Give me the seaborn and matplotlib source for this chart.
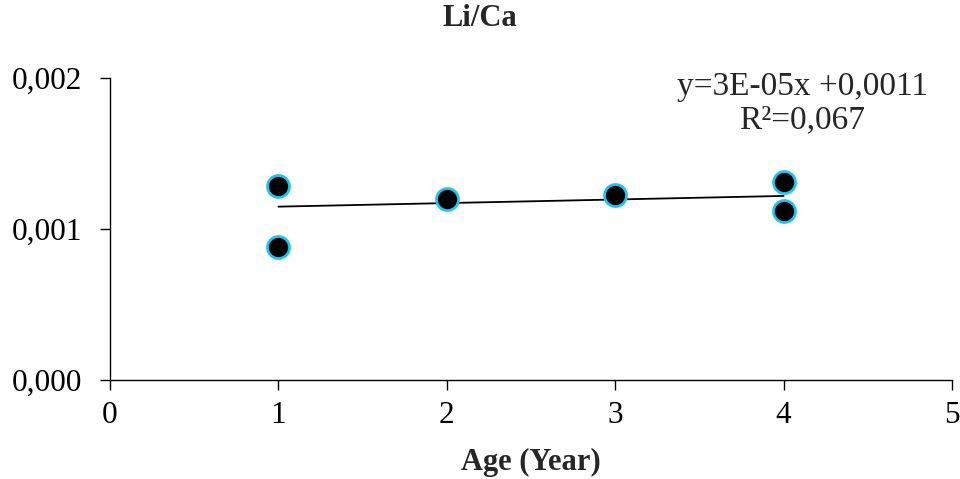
import matplotlib
matplotlib.use("Agg")
import matplotlib.pyplot as plt
import seaborn as sns
import pandas as pd
from matplotlib.ticker import FuncFormatter

# values
age = [1, 1, 2, 3, 4, 4]
li_ca = [0.001285, 0.000883, 0.001197, 0.001225, 0.001311, 0.001121]
trend_x = [1, 4]
trend_y = [0.001148, 0.001219]
equation = "y=3E-05x +0,0011\nR²=0,067"
x_ticks = [0, 1, 2, 3, 4, 5]
y_ticks = [0.000, 0.001, 0.002]

df = pd.DataFrame({"Age": age, "LiCa": li_ca})
trend = pd.DataFrame({"Age": trend_x, "LiCa": trend_y})

sns.set_style("ticks")
plt.rcParams["font.family"] = ["Liberation Serif", "DejaVu Serif"]

fig = plt.figure(figsize=(9.6, 4.79), dpi=100)
ax = fig.add_axes([110 / 960, 1 - 380 / 479, 842 / 960, 302 / 479])

sns.lineplot(data=trend, x="Age", y="LiCa", color="black", linewidth=1.3, ax=ax, zorder=2)
sns.scatterplot(
    data=df, x="Age", y="LiCa", s=250, color="black",
    edgecolor="#1FC3F0", linewidth=2.0, ax=ax, zorder=3,
)

ax.set_xlim(0, 5)
ax.set_ylim(0, 0.002)
ax.set_xticks(x_ticks)
ax.set_yticks(y_ticks)
ax.yaxis.set_major_formatter(FuncFormatter(lambda v, p: f"{v:.3f}".replace(".", ",")))
ax.tick_params(axis="both", direction="out", length=7, width=1, colors="black", labelsize=22.5)
ax.tick_params(axis="y", pad=13)
ax.tick_params(axis="x", pad=8)
for s in ["left", "bottom"]:
    ax.spines[s].set_color("black")
    ax.spines[s].set_linewidth(1)
sns.despine(ax=ax)
for c in ax.collections:
    c.set_clip_on(False)

ax.set_xlabel("Age (Year)", fontsize=22, fontweight="bold", labelpad=13)
ax.set_ylabel("")
fig.text(0.5, 1 - 19 / 479, "Li/Ca", ha="center", va="center", fontsize=22, fontweight="bold")

ax.text(0.822, 0.915, equation, transform=ax.transAxes, ha="center", va="center",
        fontsize=24, linespacing=1.1)

fig.savefig("out.png", dpi=100)
